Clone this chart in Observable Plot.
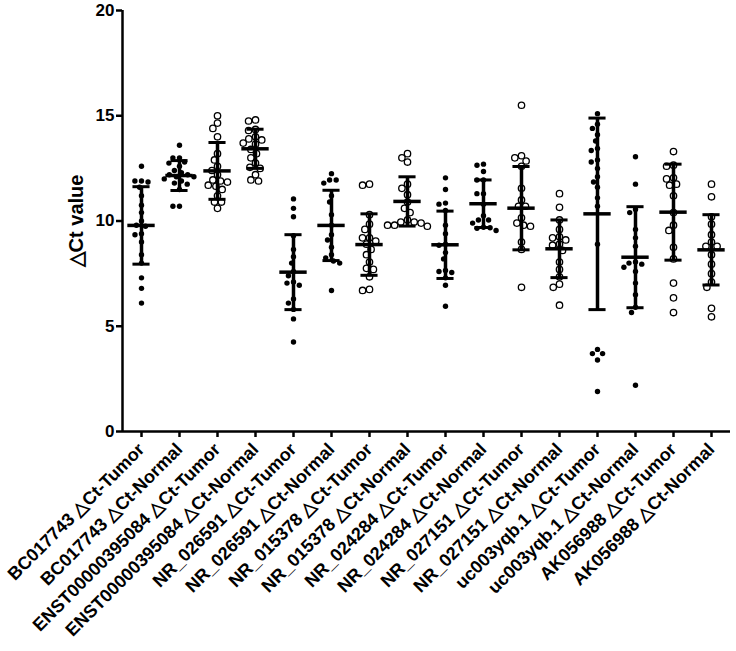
<!DOCTYPE html>
<html><head><meta charset="utf-8">
<script src="https://cdn.jsdelivr.net/npm/d3@7"></script>
<script src="https://cdn.jsdelivr.net/npm/@observablehq/plot@0.6"></script>
<style>body{margin:0;background:#fff}</style>
</head><body><div id="chart"></div>
<script>
const categories = [
  "BC017743 △Ct-Tumor", "BC017743 △Ct-Normal",
  "ENST00000395084 △Ct-Tumor", "ENST00000395084 △Ct-Normal",
  "NR_026591 △Ct-Tumor", "NR_026591 △Ct-Normal",
  "NR_015378 △Ct-Tumor", "NR_015378 △Ct-Normal",
  "NR_024284 △Ct-Tumor", "NR_024284 △Ct-Normal",
  "NR_027151 △Ct-Tumor", "NR_027151 △Ct-Normal",
  "uc003yqb.1 △Ct-Tumor", "uc003yqb.1 △Ct-Normal",
  "AK056988 △Ct-Tumor", "AK056988 △Ct-Normal"
];
const filledMarker = [true, true, false, false, true, true, false, false, true, true, false, false, true, true, false, false];
const yAxisTitle = "△Ct value";

const bc017743Tumor = [12.6, 11.9, 11.9, 11.85, 11.6, 11.2, 10.75, 10.4, 10.0, 9.8, 9.75, 9.4, 9.35, 9.0, 8.4, 8.0, 7.3, 6.8, 6.1];
const bc017743Normal = [13.6, 13.0, 13.0, 12.8, 12.75, 12.6, 12.4, 12.3, 12.2, 12.2, 12.1, 12.1, 12.0, 11.9, 11.8, 11.75, 11.5, 10.7, 10.7];
const enstTumor = [15.0, 14.65, 14.4, 14.0, 13.2, 12.9, 12.6, 12.4, 12.2, 11.95, 11.9, 11.85, 11.7, 11.65, 11.5, 11.2, 10.9, 10.9, 10.6];
const enstNormal = [14.8, 14.75, 14.35, 14.3, 14.0, 13.9, 13.85, 13.7, 13.65, 13.4, 13.2, 13.0, 12.75, 12.55, 12.5, 12.2, 11.95, 11.9];
const nr026591Tumor = [11.05, 10.6, 10.2, 9.3, 8.65, 8.3, 8.0, 7.6, 7.4, 7.1, 7.05, 6.95, 6.3, 6.1, 5.8, 5.35, 4.25];
const nr026591Normal = [12.25, 11.95, 11.95, 11.8, 11.2, 10.9, 10.3, 9.8, 9.35, 9.1, 8.75, 8.4, 8.25, 8.1, 8.0, 6.7];
const nr015378Tumor = [11.75, 11.7, 10.3, 9.85, 9.6, 9.2, 9.2, 9.05, 8.9, 8.65, 8.4, 8.05, 7.75, 7.7, 7.35, 6.75, 6.7];
const nr015378Normal = [13.2, 13.0, 12.8, 11.75, 11.55, 11.25, 10.9, 10.6, 10.4, 10.05, 9.95, 9.95, 9.9, 9.8, 9.8, 9.75];
const nr024284Tumor = [12.05, 11.5, 10.85, 10.8, 10.5, 9.8, 9.4, 8.9, 8.85, 8.5, 8.2, 7.65, 7.6, 7.55, 7.3, 6.95, 5.95];
const nr024284Normal = [12.7, 12.65, 12.35, 11.95, 11.95, 11.3, 11.3, 10.8, 10.25, 10.05, 10.05, 9.9, 9.7, 9.68, 9.65, 9.55];
const nr027151Tumor = [15.5, 13.1, 13.0, 12.85, 12.6, 11.55, 11.0, 10.7, 10.7, 10.15, 9.9, 9.8, 9.75, 9.0, 8.65, 6.85];
const nr027151Normal = [11.3, 10.65, 10.05, 9.6, 9.25, 9.2, 9.1, 8.9, 8.85, 8.6, 8.05, 7.7, 7.35, 7.0, 6.85, 6.0];
const uc003yqbTumor = [15.1, 14.6, 14.4, 14.1, 13.8, 13.45, 13.35, 12.9, 12.8, 12.5, 12.1, 11.85, 11.6, 11.1, 10.7, 8.9, 3.9, 3.7, 3.7, 3.4, 1.9];
const uc003yqbNormal = [13.05, 11.75, 10.55, 10.4, 9.6, 9.2, 8.8, 8.05, 8.0, 7.95, 7.8, 7.6, 7.05, 6.5, 5.9, 5.65, 2.2];
const ak056988Tumor = [13.3, 12.65, 12.6, 12.05, 12.0, 11.75, 11.7, 11.2, 10.4, 9.8, 9.55, 8.75, 8.2, 7.05, 6.35, 5.65];
const ak056988Normal = [11.75, 11.15, 10.2, 9.85, 9.35, 9.0, 8.8, 8.8, 8.4, 7.95, 7.5, 7.1, 6.85, 5.85, 5.45];

const groupMeans = [9.79, 12.16, 12.38, 13.43, 7.57, 9.79, 8.88, 10.93, 8.87, 10.82, 10.61, 8.68, 10.34, 8.28, 10.42, 8.63];
const groupSD = [1.84, 0.71, 1.35, 0.93, 1.78, 1.67, 1.46, 1.17, 1.6, 1.13, 1.98, 1.37, 4.55, 2.4, 2.28, 1.67];
const yTicks = [0, 5, 10, 15, 20];

const seriesList = [bc017743Tumor, bc017743Normal, enstTumor, enstNormal, nr026591Tumor, nr026591Normal,
  nr015378Tumor, nr015378Normal, nr024284Tumor, nr024284Normal, nr027151Tumor, nr027151Normal,
  uc003yqbTumor, uc003yqbNormal, ak056988Tumor, ak056988Normal];

const rows = seriesList.flatMap((vals, i) => vals.map(v => ({name: categories[i], v, filled: filledMarker[i]})));
const stats = categories.map((name, i) => ({name, mean: groupMeans[i], lo: groupMeans[i] - groupSD[i], hi: groupMeans[i] + groupSD[i]}));

const chart = Plot.plot({
  width: 736,
  height: 651,
  marginTop: 10,
  marginBottom: 220,
  marginLeft: 120,
  marginRight: 4,
  style: {fontFamily: "'Liberation Sans', Arial, sans-serif", background: "#fff", color: "#000"},
  fx: {domain: categories, padding: 0, label: null},
  x: {domain: [-1, 1], axis: null},
  y: {domain: [0, 20], label: null},
  marks: [
    Plot.dot(rows.filter(d => d.filled), Plot.dodgeX({anchor: "middle", padding: 1.2}, {fx: "name", y: "v", r: 2.7, fill: "#000", stroke: "none"})),
    Plot.dot(rows.filter(d => !d.filled), Plot.dodgeX({anchor: "middle", padding: 0.6}, {fx: "name", y: "v", r: 3.2, fill: "#fff", stroke: "#000", strokeWidth: 1.3})),
    Plot.ruleX(stats, {fx: "name", x: 0, y1: "lo", y2: "hi", strokeWidth: 3.5, stroke: "#000"}),
    Plot.ruleY(stats, {fx: "name", y: "mean", x1: -0.72, x2: 0.72, strokeWidth: 3.5, stroke: "#000"}),
    Plot.ruleY(stats, {fx: "name", y: "hi", x1: -0.45, x2: 0.45, strokeWidth: 3, stroke: "#000"}),
    Plot.ruleY(stats, {fx: "name", y: "lo", x1: -0.45, x2: 0.45, strokeWidth: 3, stroke: "#000"}),
    Plot.ruleY([0], {strokeWidth: 2.5, stroke: "#000"}),
    Plot.ruleX([categories[0]], {fx: d => d, x: -1, y1: 0, y2: 20, strokeWidth: 2.5, stroke: "#000"}),
    Plot.axisY({ticks: yTicks, tickSize: 6, strokeWidth: 2.5, fontSize: 17, fontWeight: "bold", tickPadding: 2, label: null}),
    Plot.text([categories[0]], {fx: d => d, text: () => yAxisTitle, frameAnchor: "left", dx: -46, rotate: -90,
      fontSize: 20, fontWeight: "bold", textAnchor: "middle", lineAnchor: "middle", fill: "#000"}),
    Plot.axisFx({anchor: "bottom", tickRotate: -45, tickSize: 6, strokeWidth: 2.5, fontSize: 18, fontWeight: "bold", tickPadding: 9, label: null})
  ]
});
document.getElementById("chart").appendChild(chart);
</script>
</body></html>
